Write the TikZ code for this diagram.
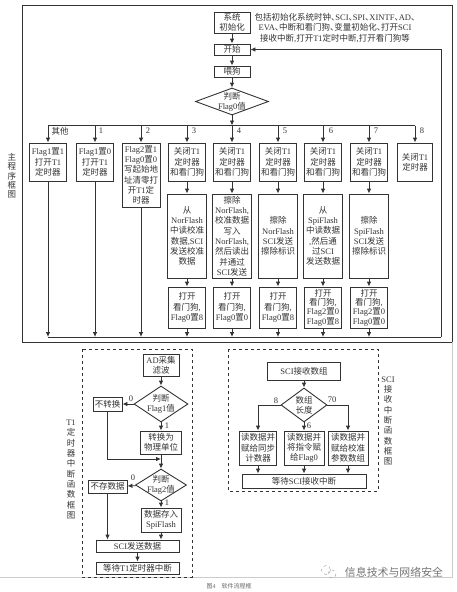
\documentclass[tikz,border=0pt]{standalone}
\usepackage{fontspec}
\setmainfont{Liberation Serif}
\newfontfamily\cjk{Noto Sans CJK SC}[RawFeature=+halt]
\usetikzlibrary{shapes,arrows,arrows.meta,positioning}

% CJK characters take the CJK family by themselves
\newXeTeXintercharclass\cjkclass
\newcount\cjkchar
\cjkchar="3000
\loop\XeTeXcharclass\cjkchar=\cjkclass\advance\cjkchar by 1 \ifnum\cjkchar<"3040 \repeat
\cjkchar="4E00
\loop\XeTeXcharclass\cjkchar=\cjkclass\advance\cjkchar by 1 \ifnum\cjkchar<"A000 \repeat
\XeTeXinterchartokenstate=1
\XeTeXinterchartoks 0 \cjkclass={\cjk}
\XeTeXinterchartoks 4095 \cjkclass={\cjk}
\XeTeXinterchartoks \cjkclass 0={\rmfamily}
\XeTeXinterchartoks \cjkclass 4095={\rmfamily}

% Lines keep their distance although the CJK glyphs are tall
\newcommand{\boxfont}{\fontsize{8.5}{10.3}\selectfont\lineskiplimit=-20pt\relax}
\newcommand{\tightfont}{\fontsize{8.5}{9.3}\selectfont\lineskiplimit=-20pt\relax}

\definecolor{inkc}{gray}{0.2}
\tikzset{
    lbl/.style={inner sep=0pt, align=center, text=inkc, font=\boxfont},
    box/.style={lbl, draw=inkc, line width=0.9pt},
    decide/.style={draw=inkc, line width=0.9pt, shape=diamond, inner sep=0pt},
    flow/.style={draw=inkc, line width=0.9pt, >={Latex[length=5pt,width=4.6pt]}},
    dashframe/.style={draw=inkc, line width=0.8pt, dashed}
}

\begin{document}
\begin{tikzpicture}[x=1pt, y=-1pt]
    \useasboundingbox (0,0) rectangle (457,592);

    % Main frame
    \draw[inkc, line width=0.9pt] (22,5) rectangle (452,342);
    \draw[black!20, line width=0.5pt] (452,342) -- (452,577) -- (0,577);
    \node[lbl, font=\tightfont] (mainName) at (12,176) {主\\程\\序\\框\\图};

    % Start of the main program
    \node[box, minimum width=36, minimum height=21] (sysInit) at (232,22.5) {系统\\初始化};
    \node[lbl] (sysNote) at (335,28) {包括初始化系统时钟、SCI、SPI、XINTF、AD、\\EVA、中断和看门狗、变量初始化、打开SCI\\接收中断,打开T1定时中断,打开看门狗等};
    \node[box, minimum width=36, minimum height=11] (start) at (232,49.5) {开始};
    \node[box, minimum width=36, minimum height=11] (feed) at (232,71.5) {喂狗};
    \node[decide, minimum width=73, minimum height=27, label={[lbl]center:判断\\Flag0值}] (judge) at (232,101.5) {};
    \coordinate (bus) at (232,125.5);
    \coordinate (busEnd) at (441,337);
    \draw[flow,->] (sysInit) -- (start);
    \draw[flow,->] (start) -- (feed);
    \draw[flow,->] (feed) -- (judge);
    \draw[flow,->] (judge) -- (bus);

    % First row, one box for each value
    \foreach \n/\cx/\val in {A/48/1, B/95/0}
        \node[box, minimum width=37, minimum height=38] (c\n) at (\cx,162) {Flag1置\val\\打开T1\\定时器};
    \node[box, minimum width=38, minimum height=64] (cC) at (141,175) {Flag2置1\\Flag0置0\\写起始地\\址清零打\\开T1定\\时器};
    \foreach \n/\cx in {D/187, E/232, F/278, G/323, H/369}
        \node[box, minimum width=37, minimum height=38] (c\n) at (\cx,162) {关闭T1\\定时器\\和看门狗};
    \node[box, minimum width=35, minimum height=38] (cI) at (415,162) {关闭T1\\定时器};

    % Second row
    \foreach \n/\cx/\txt in {
        D/187/{从\\NorFlash\\中读校准\\数据,SCI\\发送校准\\数据},
        E/232/{擦除\\NorFlash,\\校准数据\\写入\\NorFlash,\\然后读出\\并通过\\SCI发送},
        F/278/{擦除\\NorFlash\\SCI发送\\擦除标识},
        G/323/{从\\SpiFlash\\中读数据\\,然后通\\过SCI\\发送数据},
        H/369/{擦除\\SpiFlash\\SCI发送\\擦除标识}}
        \node[box, minimum width=39, minimum height=84] (m\n) at (\cx,236) {\txt};

    % Third row
    \foreach \n/\cx/\txt in {
        D/187/{打开\\看门狗,\\Flag0置8},
        E/232/{打开\\看门狗,\\Flag0置0},
        F/278/{打开\\看门狗,\\Flag0置8}}
        \node[box, minimum width=37, minimum height=41] (e\n) at (\cx,307.5) {\txt};
    \foreach \n/\cx/\txt in {
        G/323/{打开\\看门狗,\\Flag2置0\\Flag0置8},
        H/369/{打开\\看门狗,\\Flag2置0\\Flag0置0}}
        \node[box, font=\tightfont, minimum width=37, minimum height=41] (e\n) at (\cx,307.5) {\txt};

    % Branch values
    \node[lbl] (valOther) at (60,131) {其他};
    \foreach \n/\cx/\num in {B/101/1, C/148/2, D/194/3, E/239/4, F/285/5, G/331/6, H/376/7, I/422/8}
        \node[lbl] (val\n) at (\cx,131) {\num};

    % Top and bottom lines of the branches
    \draw[flow] (bus -| cA.north) -- (bus -| cI.north);
    \draw[flow] (busEnd -| cA.south) -- (busEnd);
    \foreach \c in {cA,cB,cC,cD,cE,cF,cG,cH,cI}
        \draw[flow,->] (bus -| \c.north) -- (\c.north);
    \foreach \c in {cA,cB,cC,eD,eE,eF,eG,eH}
        \draw[flow,->] (\c.south) -- (\c.south |- busEnd);
    \foreach \n in {D,E,F,G,H} {
        \draw[flow,->] (c\n) -- (m\n);
        \draw[flow,->] (m\n) -- (e\n);
    }
    \draw[flow,->] (busEnd) -- (busEnd |- start.east) -- (start.east);

    % T1 interrupt
    \draw[dashframe] (82,349) rectangle (192,577);
    \node[lbl] (timerName) at (71,469.5) {T1\\定\\时\\器\\中\\断\\函\\数\\框\\图};
    \node[box, minimum width=36, minimum height=22] (adIn) at (161,365) {AD采集\\滤波};
    \node[decide, minimum width=54, minimum height=36, label={[lbl]center:判断\\Flag1值}] (judgeA) at (161,404) {};
    \node[box, minimum width=29, minimum height=14] (noConv) at (107.5,404) {不转换};
    \node[box, minimum width=41, minimum height=23] (conv) at (161,442.5) {转换为\\物理单位};
    \coordinate (joinA) at (161,459);
    \node[decide, minimum width=51, minimum height=32, label={[lbl]center:判断\\Flag2值}] (judgeB) at (161,485) {};
    \node[box, minimum width=39, minimum height=13] (noSave) at (107.5,486.5) {不存数据};
    \node[box, minimum width=40, minimum height=24] (save) at (161,520) {数据存入\\SpiFlash};
    \node[box, minimum width=83, minimum height=12] (sciSend) at (137.5,546) {SCI发送数据};
    \node[box, minimum width=83, minimum height=12] (waitT) at (137.5,568) {等待T1定时器中断};
    \node[lbl] (zeroA) at (131,399) {0};
    \node[lbl] (oneA) at (167,426) {1};
    \node[lbl] (zeroB) at (133,478) {0};
    \node[lbl] (oneB) at (167,503) {1};
    \draw[flow,->] (adIn) -- (judgeA);
    \draw[flow,->] (judgeA) -- (noConv);
    \draw[flow,->] (judgeA) -- (conv);
    \draw[flow,->] (conv) -- (judgeB);
    \draw[flow,->] (noConv) |- (joinA);
    \draw[flow,->] (judgeB) -- (noSave);
    \draw[flow,->] (judgeB) -- (save);
    \draw[flow,->] (save.south) -- (save.south |- sciSend.north);
    \draw[flow,->] (noSave.south) -- (noSave.south |- sciSend.north);
    \draw[flow,->] (sciSend) -- (waitT);

    % SCI interrupt
    \draw[dashframe] (228,349) rectangle (378,491);
    \node[lbl] (sciName) at (388,421) {SCI\\接\\收\\中\\断\\函\\数\\框\\图};
    \node[box, minimum width=73, minimum height=18] (sciRecv) at (304,371) {SCI接收数组};
    \node[decide, minimum width=46, minimum height=34, label={[lbl]center:数组\\长度}] (judgeLen) at (304,405) {};
    \node[box, minimum width=37, minimum height=34] (readA) at (258,448) {读数据并\\赋给同步\\计数器};
    \node[box, minimum width=40, minimum height=34] (readB) at (304,448) {读数据并\\将指令赋\\给Flag0};
    \node[box, minimum width=40, minimum height=34] (readC) at (348,448) {读数据并\\赋给校准\\参数数组};
    \node[box, minimum width=124, minimum height=14] (waitS) at (304,481) {等待SCI接收中断};
    \node[lbl] (lenA) at (276,401) {8};
    \node[lbl] (lenB) at (332,400) {70};
    \node[lbl] (lenC) at (309,426) {6};
    \draw[flow,->] (sciRecv) -- (judgeLen);
    \draw[flow,->] (judgeLen) -| (readA);
    \draw[flow,->] (judgeLen) -- (readB);
    \draw[flow,->] (judgeLen) -| (readC);
    \foreach \c in {readA,readB,readC}
        \draw[flow,->] (\c.south) -- (\c.south |- waitS.north);

    % Caption and mark
    \node[lbl, text=black!60, font=\fontsize{6}{7}\selectfont] (caption) at (229,586) {图4\hspace{6pt}软件流程框};
    \node[lbl, text=black!55, font=\fontsize{10.9}{12}\selectfont] (mark) at (394,572) {信息技术与网络安全};
    \draw[black!35, line width=0.5pt, dashed] (326,570) circle (4.5);
    \draw[black!35, line width=0.5pt, dashed] (332,574) circle (4);
\end{tikzpicture}
\end{document}
